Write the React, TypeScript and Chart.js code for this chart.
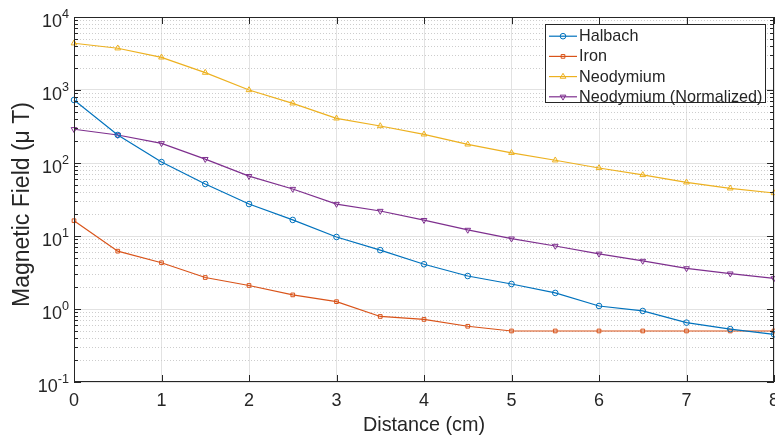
import React, { useEffect, useRef } from 'react';
import { Chart, registerables } from 'chart.js';

Chart.register(...registerables);

// ---- data ----
const DISTANCE = [0, 0.5, 1, 1.5, 2, 2.5, 3, 3.5, 4, 4.5, 5, 5.5, 6, 6.5, 7, 7.5, 8];
const HALBACH = [730, 242, 103, 51.5, 27.4, 16.6, 9.7, 6.4, 4.1, 2.83, 2.2, 1.66, 1.1, 0.94, 0.65, 0.53, 0.45];
const IRON = [16.2, 6.2, 4.3, 2.7, 2.1, 1.56, 1.26, 0.79, 0.72, 0.58, 0.5, 0.5, 0.5, 0.5, 0.5, 0.5, 0.5];
const NEODYMIUM = [4370, 3730, 2800, 1730, 1000, 657, 409, 321, 247, 180, 138, 109, 85.5, 68.6, 54.4, 45, 38.8];
const NEO_NORMALIZED = [290, 242, 186, 113, 66, 44, 27.4, 22, 16.5, 12.1, 9.2, 7.3, 5.7, 4.55, 3.6, 3.05, 2.63];

const SERIES_NAMES = ['Halbach', 'Iron', 'Neodymium', 'Neodymium (Normalized)'];
const X_TICKS = [0, 1, 2, 3, 4, 5, 6, 7, 8];
const Y_TICK_EXPONENTS = [-1, 0, 1, 2, 3, 4];
const X_TITLE = 'Distance (cm)';
const Y_TITLE = 'Magnetic Field (\u03bc T)';

const COLORS = ['#0072BD', '#D95319', '#EDB120', '#7E2F8E'];
const STYLES = ['circle', 'rect', 'triangle', 'triangle'];
const ROTATIONS = [0, 0, 0, 180];
const RADII = [2.8, 2.6, 3.3, 3.3];
const FONT = '"Liberation Sans", Arial, Helvetica, sans-serif';
const AXIS_COLOR = '#262626';

function drawMarker(ctx: CanvasRenderingContext2D, i: number, x: number, y: number) {
  const r = RADII[i];
  ctx.beginPath();
  if (STYLES[i] === 'circle') {
    ctx.arc(x, y, r, 0, Math.PI * 2);
  } else if (STYLES[i] === 'rect') {
    const s = r * Math.SQRT1_2;
    ctx.rect(x - s, y - s, 2 * s, 2 * s);
  } else {
    const dir = ROTATIONS[i] === 180 ? -1 : 1;
    const h = r * 0.5;
    ctx.moveTo(x, y - dir * r);
    ctx.lineTo(x - r * 0.866, y + dir * h);
    ctx.lineTo(x + r * 0.866, y + dir * h);
    ctx.closePath();
  }
  ctx.stroke();
}

const matlabPlugin = {
  id: 'matlabLook',
  beforeDatasetsDraw(chart: any) {
    const { ctx, chartArea: a, scales } = chart;
    const y = scales.y;
    ctx.save();
    ctx.strokeStyle = '#cdcdcd';
    ctx.lineWidth = 1;
    ctx.setLineDash([1, 2]);
    for (let e = -1; e < 4; e++) {
      for (let m = 2; m <= 9; m++) {
        const py = Math.round(y.getPixelForValue(m * Math.pow(10, e))) + 0.5;
        ctx.beginPath();
        ctx.moveTo(a.left, py);
        ctx.lineTo(a.right, py);
        ctx.stroke();
      }
    }
    ctx.restore();
  },
  afterDraw(chart: any) {
    const { ctx, chartArea: a, scales } = chart;
    const x = scales.x;
    const y = scales.y;
    ctx.save();
    // box
    ctx.strokeStyle = AXIS_COLOR;
    ctx.lineWidth = 1;
    ctx.setLineDash([]);
    ctx.strokeRect(a.left + 0.5, a.top + 0.5, a.right - a.left - 1, a.bottom - a.top - 1);
    // x ticks (inward, bottom & top)
    ctx.beginPath();
    X_TICKS.forEach((v) => {
      const px = Math.round(x.getPixelForValue(v)) + 0.5;
      ctx.moveTo(px, a.bottom);
      ctx.lineTo(px, a.bottom - 7);
      ctx.moveTo(px, a.top);
      ctx.lineTo(px, a.top + 7);
    });
    // y ticks
    for (let e = -1; e <= 4; e++) {
      const py = Math.round(y.getPixelForValue(Math.pow(10, e))) + 0.5;
      ctx.moveTo(a.left, py);
      ctx.lineTo(a.left + 7, py);
      ctx.moveTo(a.right, py);
      ctx.lineTo(a.right - 7, py);
      if (e < 4) {
        for (let m = 2; m <= 9; m++) {
          const pm = Math.round(y.getPixelForValue(m * Math.pow(10, e))) + 0.5;
          ctx.moveTo(a.left, pm);
          ctx.lineTo(a.left + 4, pm);
          ctx.moveTo(a.right, pm);
          ctx.lineTo(a.right - 4, pm);
        }
      }
    }
    ctx.stroke();

    ctx.fillStyle = AXIS_COLOR;
    // x tick labels
    ctx.font = `18px ${FONT}`;
    ctx.textAlign = 'center';
    ctx.textBaseline = 'alphabetic';
    X_TICKS.forEach((v) => {
      ctx.fillText(String(v), x.getPixelForValue(v), 406);
    });

    // y tick labels 10^n
    ctx.textAlign = 'left';
    Y_TICK_EXPONENTS.forEach((e) => {
      const py = y.getPixelForValue(Math.pow(10, e));
      ctx.font = `18px ${FONT}`;
      const w10 = ctx.measureText('10').width;
      ctx.font = `12.6px ${FONT}`;
      const expText = String(e);
      const wE = ctx.measureText(expText).width;
      const start = a.left - 5 - (w10 + wE);
      ctx.font = `18px ${FONT}`;
      ctx.fillText('10', start, py + 9.7);
      ctx.font = `12.6px ${FONT}`;
      ctx.fillText(expText, start + w10, py + 1);
    });

    // axis titles
    ctx.font = `19.8px ${FONT}`;
    ctx.textAlign = 'center';
    ctx.textBaseline = 'alphabetic';
    ctx.fillText(X_TITLE, (a.left + a.right) / 2, 431);
    ctx.save();
    ctx.font = `23px ${FONT}`;
    ctx.translate(28.5, 307);
    ctx.rotate(-Math.PI / 2);
    ctx.textAlign = 'left';
    ctx.fillText(Y_TITLE, 0, 0);
    ctx.restore();

    // legend
    const lx = 545.5, ly = 24.5, lw = 220, lh = 78;
    ctx.fillStyle = '#ffffff';
    ctx.fillRect(lx, ly, lw, lh);
    ctx.strokeStyle = AXIS_COLOR;
    ctx.strokeRect(lx, ly, lw, lh);
    ctx.font = `16.2px ${FONT}`;
    ctx.textAlign = 'left';
    ctx.textBaseline = 'middle';
    SERIES_NAMES.forEach((name, i) => {
      const ry = 36.2 + i * 20.2;
      ctx.strokeStyle = COLORS[i];
      ctx.lineWidth = 1.2;
      ctx.beginPath();
      ctx.moveTo(549, ry);
      ctx.lineTo(577, ry);
      ctx.stroke();
      ctx.lineWidth = 1;
      drawMarker(ctx, i, 563, ry);
      ctx.fillStyle = AXIS_COLOR;
      ctx.fillText(name, 579, ry + 0.5);
    });
    ctx.restore();
  },
};

export default function App() {
  const ref = useRef<HTMLCanvasElement | null>(null);

  useEffect(() => {
    document.body.style.margin = '0';
    const canvas = ref.current;
    if (!canvas) return;
    const series = [HALBACH, IRON, NEODYMIUM, NEO_NORMALIZED];
    const chart = new Chart(canvas, {
      type: 'line',
      data: {
        datasets: series.map((vals, i) => ({
          label: SERIES_NAMES[i],
          data: DISTANCE.map((d, j) => ({ x: d, y: vals[j] })),
          borderColor: COLORS[i],
          backgroundColor: 'rgba(0,0,0,0)',
          borderWidth: 1.2,
          pointStyle: STYLES[i] as any,
          pointRotation: ROTATIONS[i],
          pointRadius: RADII[i],
          pointBorderWidth: 1,
          pointBorderColor: COLORS[i],
          pointBackgroundColor: 'rgba(0,0,0,0)',
          tension: 0,
          clip: false as any,
        })),
      },
      options: {
        responsive: false,
        animation: false,
        devicePixelRatio: 1,
        layout: { autoPadding: false, padding: { top: 17, right: 1, left: 0, bottom: 0 } },
        plugins: { legend: { display: false }, tooltip: { enabled: false } },
        scales: {
          x: {
            type: 'linear',
            min: 0,
            max: 8,
            afterBuildTicks: (s: any) => {
              s.ticks = X_TICKS.map((v) => ({ value: v }));
            },
            afterFit: (s: any) => {
              s.height = 56;
              s.paddingLeft = 0;
              s.paddingRight = 0;
            },
            ticks: { display: false },
            grid: { color: '#e2e2e2', lineWidth: 1, drawTicks: false },
            border: { display: false },
          },
          y: {
            type: 'logarithmic',
            min: 0.1,
            max: 10000,
            afterBuildTicks: (s: any) => {
              s.ticks = Y_TICK_EXPONENTS.map((e) => ({ value: Math.pow(10, e), major: true }));
            },
            afterFit: (s: any) => {
              s.width = 74;
              s.paddingTop = 0;
              s.paddingBottom = 0;
            },
            ticks: { display: false },
            grid: { color: '#e2e2e2', lineWidth: 1, drawTicks: false },
            border: { display: false },
          },
        },
      },
      plugins: [matlabPlugin],
    } as any);
    return () => chart.destroy();
  }, []);

  return <canvas ref={ref} width={775} height={438} style={{ display: 'block' }} />;
}
